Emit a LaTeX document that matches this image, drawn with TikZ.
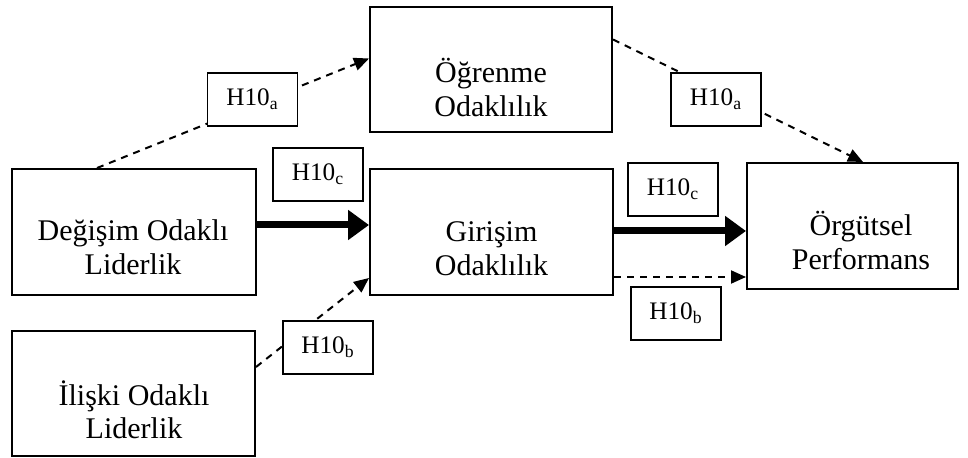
\documentclass[tikz,border=0pt]{standalone}
\usepackage{fontspec}
\setmainfont{Liberation Serif}
\usetikzlibrary{arrows.meta}

\tikzset{
  conceptbox/.style={draw, line width=1pt, fill=white, inner sep=0pt},
  boxtext/.style={font=\fontsize{15}{17}\selectfont, align=center, anchor=base, inner sep=0pt},
  hyplabel/.style={draw, line width=0.9pt, fill=white, inner sep=0pt,
    minimum width=45pt, minimum height=26.5pt, font=\fontsize{12.6}{14}\selectfont},
  dashedlink/.style={line width=1pt, dash pattern=on 3.5pt off 3pt,
    -{Triangle[length=7.5pt,width=6.5pt]}},
  boldlink/.style={line width=3.5pt, -{Triangle[length=10.5pt,width=14.5pt]}},
}

\begin{document}
\begin{tikzpicture}[x=0.5pt,y=-0.5pt]
\useasboundingbox (0,0) rectangle (968,458);

% concept boxes
\node[conceptbox, minimum width=121pt,   minimum height=62.5pt] (ogr)  at (491,69.5)   {};
\node[conceptbox, minimum width=122pt,   minimum height=63pt]   (deg)  at (134,232)    {};
\node[conceptbox, minimum width=121.5pt, minimum height=63pt]   (gir)  at (491.5,232)  {};
\node[conceptbox, minimum width=105.5pt, minimum height=63pt]   (perf) at (852.5,226)  {};
\node[conceptbox, minimum width=121.5pt, minimum height=62.5pt] (ilis) at (133.5,393.5) {};

% box captions (anchored on the baseline of the last line)
\node[boxtext] (ogrT)  at (491,117)   {Öğrenme\\Odaklılık};
\node[boxtext] (degT)  at (133,275)   {Değişim Odaklı\\Liderlik};
\node[boxtext] (girT)  at (491.5,276) {Girişim\\Odaklılık};
\node[boxtext] (perfT) at (861,270)   {Örgütsel\\Performans};
\node[boxtext] (ilisT) at (134,439)   {İlişki Odaklı\\Liderlik};

% connectors
\draw[dashedlink] ([xshift=-18.5pt]deg.north) -- ([yshift=5.5pt]ogr.west);
\draw[dashedlink] ([yshift=15pt]ogr.east) -- ([xshift=5.25pt]perf.north);
\draw[dashedlink] ([yshift=13.25pt]ilis.east) -- ([yshift=-23pt]gir.west);
\coordinate (d1) at ([yshift=3.5pt]deg.east);
\draw[boldlink] (d1) -- (d1 -| gir.west);
\coordinate (g1) at ([yshift=0.5pt]gir.east);
\draw[boldlink] (g1) -- (g1 -| perf.west);
\coordinate (g2) at ([yshift=-22.5pt]gir.east);
\draw[dashedlink] (g2) -- (g2 -| perf.west);

% hypothesis labels
\node[hyplabel] (la1) at (252.5,99.5) {H10\textsubscript{a}};
\node[hyplabel] (lc1) at (318,174.5)  {H10\textsubscript{c}};
\node[hyplabel] (la2) at (716,99.5)   {H10\textsubscript{a}};
\node[hyplabel] (lc2) at (673,189.5)  {H10\textsubscript{c}};
\node[hyplabel] (lb2) at (676,313.5)  {H10\textsubscript{b}};
\node[hyplabel] (lb1) at (328,347.5)  {H10\textsubscript{b}};
\end{tikzpicture}
\end{document}
